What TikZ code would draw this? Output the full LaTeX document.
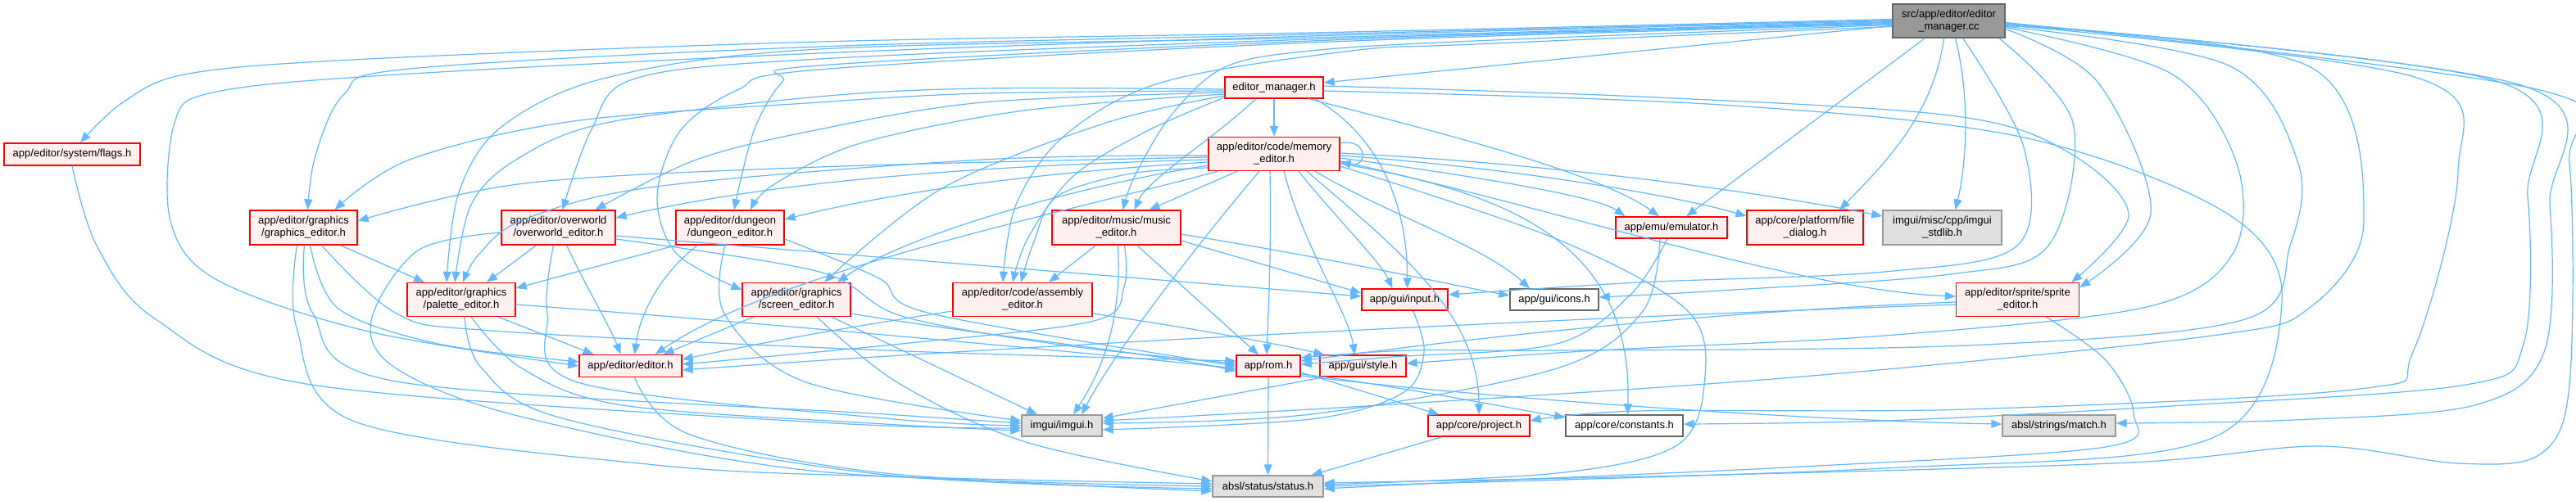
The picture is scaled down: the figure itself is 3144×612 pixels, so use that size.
\documentclass[tikz,border=0pt]{standalone}
\usepackage{fontspec}
\setmainfont{Liberation Sans}
\usetikzlibrary{arrows.meta,calc}
\definecolor{edgec}{HTML}{63B8FF}
\definecolor{nred}{HTML}{FF0000}
\definecolor{nfill}{HTML}{FFF0F0}
\definecolor{ngray}{HTML}{E0E0E0}
\definecolor{ngrayd}{HTML}{999999}
\definecolor{nwhited}{HTML}{666666}
\definecolor{nsrc}{HTML}{999999}
\newcommand\nfont{\fontsize{13}{15}\selectfont}
\tikzset{
 box/.style={draw, line width=1.3pt, inner sep=0pt, align=center, font=\nfont, text=black},
 redbox/.style={box, draw=nred, fill=nfill},
 graybox/.style={box, draw=ngrayd, fill=ngray},
 whitebox/.style={box, draw=nwhited, fill=white},
 srcbox/.style={box, draw=nwhited, fill=nsrc},
 e/.style={draw=edgec, line width=1.2pt, -{Triangle[length=13pt,width=10pt]}},
 sm/.style={smooth, tension=0.55},
}
\begin{document}
\begin{tikzpicture}[x=1pt,y=-1pt]
\fill[white] (0,0) rectangle (3144,612);
\useasboundingbox (0,0) rectangle (3144,612);

% ---------------- nodes ----------------
\node[srcbox, minimum width=137pt, minimum height=41pt] (src) at (2378.5,25.5) {src/app/editor/editor\\\_manager.cc};
\node[redbox, minimum width=120pt, minimum height=26pt] (em) at (1555,107) {editor\_manager.h};
\node[redbox, minimum width=160pt, minimum height=41pt] (mem) at (1555,188) {app/editor/code/memory\\\_editor.h};
\node[redbox, minimum width=166pt, minimum height=27pt] (flags) at (88,188.5) {app/editor/system/flags.h};
\node[redbox, minimum width=131pt, minimum height=42pt] (ge) at (370.5,278) {app/editor/graphics\\/graphics\_editor.h};
\node[redbox, minimum width=139pt, minimum height=42pt] (ow) at (681.5,278) {app/editor/overworld\\/overworld\_editor.h};
\node[redbox, minimum width=132pt, minimum height=42pt] (de) at (891,278) {app/editor/dungeon\\/dungeon\_editor.h};
\node[redbox, minimum width=157pt, minimum height=42pt] (mu) at (1362.5,278) {app/editor/music/music\\\_editor.h};
\node[redbox, minimum width=136pt, minimum height=26pt] (emu) at (2040,278) {app/emu/emulator.h};
\node[redbox, minimum width=142pt, minimum height=42pt] (fd) at (2203,278) {app/core/platform/file\\\_dialog.h};
\node[graybox, minimum width=145pt, minimum height=42pt] (stdlib) at (2370.5,278) {imgui/misc/cpp/imgui\\\_stdlib.h};
\node[redbox, minimum width=132pt, minimum height=41pt] (pe) at (563,366) {app/editor/graphics\\/palette\_editor.h};
\node[redbox, minimum width=132pt, minimum height=41pt] (se) at (972,366) {app/editor/graphics\\/screen\_editor.h};
\node[redbox, minimum width=170pt, minimum height=41pt] (asm) at (1248,366) {app/editor/code/assembly\\\_editor.h};
\node[redbox, minimum width=105pt, minimum height=26pt] (inp) at (1714.5,366) {app/gui/input.h};
\node[whitebox, minimum width=108pt, minimum height=26pt] (icons) at (1897,366) {app/gui/icons.h};
\node[redbox, minimum width=150pt, minimum height=41pt] (sp) at (2462.5,366) {app/editor/sprite/sprite\\\_editor.h};
\node[redbox, minimum width=125pt, minimum height=27pt] (ed) at (769.5,447) {app/editor/editor.h};
\node[redbox, minimum width=78pt, minimum height=26pt] (rom) at (1548,447) {app/rom.h};
\node[redbox, minimum width=105pt, minimum height=26pt] (sty) at (1663.5,447) {app/gui/style.h};
\node[graybox, minimum width=98pt, minimum height=26pt] (imgui) at (1296,520) {imgui/imgui.h};
\node[redbox, minimum width=124pt, minimum height=26pt] (proj) at (1805,520) {app/core/project.h};
\node[whitebox, minimum width=143pt, minimum height=26pt] (con) at (1982.5,520) {app/core/constants.h};
\node[graybox, minimum width=138pt, minimum height=26pt] (match) at (2513,520) {absl/strings/match.h};
\node[graybox, minimum width=135pt, minimum height=26pt] (status) at (1547.5,594) {absl/status/status.h};

% ---------------- edges from the source file ----------------
\draw[e] ($(src.west)+(0,6)$) -- ($(em.east)+(0,-6)$);
\draw[e] plot[sm] coordinates {($(src.west)+(0,-2)$) (1600,40) (1000,51) (450,72) (230,90) (150,125) ($(flags.north)+(10,0)$)};
\draw[e] plot[sm] coordinates {($(src.west)+(0,-1)$) (1600,42) (1000,57) (500,84) (420,115) (385,190) ($(ge.north)+(5,0)$)};
\draw[e] plot[sm] coordinates {(src.west) (1600,44) (1000,65) (470,92) (260,113) (213,150) (208,270) (265,342) (450,405) (ed.west)};
\draw[e] plot[sm] coordinates {($(src.west)+(0,1)$) (1600,46) (1000,60) (740,95) (612,155) (560,235) ($(pe.north)+(-18,0)$)};
\draw[e] plot[sm] coordinates {($(src.west)+(0,2)$) (1600,48) (1000,72) (775,96) (722,158) ($(ow.north)+(5,0)$)};
\draw[e] plot[sm] coordinates {($(src.west)+(0,3)$) (1600,50) (1000,80) (955,100) (920,160) ($(de.north)+(5,0)$)};
\draw[e] plot[sm] coordinates {($(src.west)+(0,4)$) (1600,52) (1000,85) (900,110) (830,160) (802,240) (826,310) ($(se.west)+(0,-12)$)};
\draw[e] plot[sm] coordinates {($(src.west)+(0,5)$) (1800,50) (1600,62) (1495,82) (1430,140) (1385,215) ($(mu.north)+(8,0)$)};
\draw[e] plot[sm] coordinates {($(src.west)+(0,7)$) (1800,54) (1650,62) (1420,100) (1300,165) (1240,250) ($(asm.north)+(-24,0)$)};
\draw[e] ($(src.south west)+(40,0)$) -- ($(emu.north)+(18,0)$);
\draw[e] ($(src.south)+(-6,0)$) .. controls (2360,140) and (2300,200) .. ($(fd.north)+(42,0)$);
\draw[e] ($(src.south)+(8,0)$) .. controls (2405,120) and (2400,200) .. ($(stdlib.north)+(16,0)$);
% loops on the right
\draw[e] plot[sm] coordinates {($(src.south east)+(-52,0)$) (2470,180) (2462,300) (2300,332) (2000,345) ($(inp.east)+(0,-6)$)};
\draw[e] plot[sm] coordinates {($(src.south east)+(-8,0)$) (2530,150) (2500,300) (2380,335) (2100,355) ($(icons.east)+(0,-3)$)};
\draw[e] plot[sm] coordinates {($(src.east)+(0,10)$) (2560,100) (2625,260) ($(sp.east)+(0,-15)$)};
\draw[e] plot[sm] coordinates {($(src.east)+(0,8)$) (2650,90) (2730,200) (2725,310) (2620,375) (2300,410) (1950,428) ($(sty.east)+(0,-3)$)};
\draw[e] plot[sm] coordinates {($(src.east)+(0,7)$) (2720,80) (2805,200) (2795,300) (2740,390) (2400,422) (1900,428) (1720,428) ($(rom.east)+(0,-10)$)};
\draw[e] plot[sm] coordinates {($(src.east)+(0,6)$) (2820,82) (2885,270) (2820,375) (2700,410) (2200,460) (1700,494) ($(imgui.east)+(0,-6)$)};
\draw[e] plot[sm] coordinates {($(src.east)+(0,5)$) (2950,95) (3000,210) (2945,430) (2880,475) (2400,500) (2000,502) ($(proj.east)+(0,-6)$)};
\draw[e] plot[sm] coordinates {($(src.east)+(0,4)$) (3050,100) (3085,240) (3080,420) (3010,470) (2650,496) (2300,514) ($(con.east)+(0,-2)$)};
\draw[e] plot[sm] coordinates {($(src.east)+(0,3)$) (3080,105) (3112,250) (3105,430) (3020,495) (2800,513) ($(match.east)+(0,-3)$)};
\draw[e] plot[sm] coordinates {($(src.east)+(0,2)$) (3100,110) (3136,200) (3136,470) (3100,555) (3000,566) (2830,545) (2600,565) (2100,580) ($(status.east)+(0,-4)$)};

% ---------------- edges from editor_manager.h ----------------
\draw[e] (em.south) -- (mem.north);
\draw[e] plot[sm] coordinates {($(em.west)+(0,4)$) (1200,114) (1000,125) (700,148) (500,195) ($(ge.north)+(38,0)$)};
\draw[e] plot[sm] coordinates {($(em.west)+(0,6)$) (1200,125) (1000,158) (850,195) ($(ow.north)+(45,0)$)};
\draw[e] plot[sm] coordinates {($(em.west)+(0,8)$) (1250,135) (1050,175) (945,225) ($(de.north)+(25,0)$)};
\draw[e] plot[sm] coordinates {($(em.west)+(0,2)$) (1200,108) (1000,118) (740,150) (630,195) (575,250) ($(pe.north)+(-8,0)$)};
\draw[e] plot[sm] coordinates {($(em.west)+(0,10)$) (1350,150) (1150,230) ($(se.north)+(34,0)$)};
\draw[e] ($(em.south)+(-22,0)$) .. controls (1480,170) and (1400,220) .. ($(mu.north)+(22,0)$);
\draw[e] plot[sm] coordinates {($(em.west)+(0,12)$) (1400,160) (1310,215) (1255,290) ($(asm.north)+(-12,0)$)};
\draw[e] ($(em.south)+(42,0)$) .. controls (1750,160) and (1950,210) .. ($(emu.north)+(-15,0)$);
\draw[e] ($(em.south)+(50,0)$) .. controls (1690,170) and (1718,260) .. ($(inp.north)+(3,0)$);
\draw[e] plot[sm] coordinates {($(em.east)+(0,-2)$) (2000,118) (2380,141) (2521,184) (2598,262) ($(sp.north east)+(-10,0)$)};
\draw[e] plot[sm] coordinates {($(em.east)+(0,4)$) (2100,128) (2470,168) (2720,262) (2785,370) (2700,535) (2300,572) (status.east)};

% ---------------- edges from memory_editor.h ----------------
\draw[e] ($(mem.east)+(0,-13)$) .. controls (1670,168) and (1670,205) .. ($(mem.east)+(0,10)$);
\draw[e] plot[sm] coordinates {($(mem.west)+(0,4)$) (1000,204) (640,224) ($(ge.east)+(0,-8)$)};
\draw[e] ($(mem.west)+(0,7)$) .. controls (1100,205) and (900,232) .. ($(ow.east)+(0,-12)$);
\draw[e] ($(mem.west)+(0,10)$) .. controls (1200,215) and (1050,245) .. ($(de.east)+(0,-10)$);
\draw[e] plot[sm] coordinates {($(mem.west)+(0,2)$) (1200,195) (800,228) (640,268) (585,310) ($(pe.north)+(2,0)$)};
\draw[e] ($(mem.west)+(0,14)$) .. controls (1300,230) and (1100,290) .. ($(se.north)+(50,0)$);
\draw[e] ($(mem.south)+(-45,0)$) -- ($(mu.north)+(40,0)$);
\draw[e] plot[sm] coordinates {($(mem.west)+(0,17)$) (1380,212) (1290,240) (1262,295) ($(asm.north)+(-2,0)$)};
\draw[e] ($(mem.south west)+(12,0)$) .. controls (1300,260) and (950,330) .. ($(ed.north)+(30,0)$);
\draw[e] ($(mem.east)+(0,5)$) .. controls (1800,215) and (1950,240) .. ($(emu.north west)+(12,0)$);
\draw[e] ($(mem.east)+(0,2)$) .. controls (1850,205) and (2050,240) .. ($(fd.west)+(0,-14)$);
\draw[e] ($(mem.east)+(0,-1)$) .. controls (1900,200) and (2150,235) .. ($(stdlib.west)+(0,-14)$);
\draw[e] ($(mem.east)+(0,9)$) .. controls (1900,255) and (2200,355) .. ($(sp.west)+(0,-4)$);
\draw[e] ($(mem.south)+(30,0)$) .. controls (1625,260) and (1685,320) .. ($(inp.north)+(-15,0)$);
\draw[e] ($(mem.south)+(50,0)$) .. controls (1690,260) and (1810,300) .. ($(icons.north)+(-30,0)$);
\draw[e] ($(mem.south)+(-5,0)$) .. controls (1552,300) and (1548,380) .. ($(rom.north)+(-2,0)$);
\draw[e] ($(mem.south)+(12,0)$) .. controls (1590,300) and (1645,380) .. ($(sty.north)+(-10,0)$);
\draw[e] ($(mem.south)+(-18,0)$) .. controls (1460,300) and (1360,430) .. ($(imgui.north)+(24,0)$);
\draw[e] ($(mem.south)+(40,0)$) .. controls (1700,300) and (1805,380) .. (proj.north);
\draw[e] ($(mem.east)+(0,12)$) .. controls (1880,240) and (1992,320) .. ($(con.north)+(4,0)$);
\draw[e] plot[sm] coordinates {($(mem.east)+(0,15)$) (1900,292) (2060,380) (2080,470) (2045,545) (1900,578) ($(status.east)+(0,-2)$)};

% ---------------- other edges ----------------
\draw[e] plot[sm] coordinates {(flags.south) (118,300) (190,390) (380,470) (1000,516) ($(imgui.west)+(0,3)$)};

\draw[e] ($(ge.south)+(45,0)$) -- ($(pe.north)+(-45,0)$);
\draw[e] plot[sm] coordinates {($(ge.south)+(22,0)$) (484,383) (600,404) (1080,428) ($(rom.west)+(0,-6)$)};
\draw[e] plot[sm] coordinates {($(ge.south)+(8,0)$) (413,377) (535,420) ($(ed.west)+(0,-5)$)};
\draw[e] plot[sm] coordinates {($(ge.south)+(1,0)$) (382,383) (484,466) (1080,506) ($(imgui.west)+(0,-3)$)};
\draw[e] plot[sm] coordinates {($(ge.south)+(-8,0)$) (362,400) (433,515) (800,568) (1080,582) ($(status.west)+(0,-3)$)};

\draw[e] ($(ow.south)+(-27,0)$) -- ($(pe.north)+(31,0)$);
\draw[e] ($(ow.south)+(10,0)$) .. controls (715,350) and (745,400) .. ($(ed.north)+(-12,0)$);
\draw[e] plot[sm] coordinates {($(ow.south)+(-6,0)$) (668,383) (705,467) (1080,511) ($(imgui.west)+(0,0)$)};
\draw[e] plot[sm] coordinates {($(ow.west)+(0,6)$) (510,306) (453,392) (485,451) (640,510) (1000,576) ($(status.west)+(0,0)$)};
\draw[e] ($(ow.east)+(0,10)$) -- ($(inp.west)+(0,-4)$);
\draw[e] plot[sm] coordinates {($(ow.east)+(0,14)$) (1000,332) (1100,386) (1300,422) ($(rom.west)+(0,-3)$)};

\draw[e] ($(de.south)+(-66,0)$) -- ($(pe.east)+(0,-14)$);
\draw[e] ($(de.south)+(-40,0)$) .. controls (800,340) and (780,390) .. ($(ed.north)+(5,0)$);
\draw[e] plot[sm] coordinates {($(de.south)+(-6,0)$) (884,383) (984,467) ($(imgui.west)+(0,-6)$)};
\draw[e] plot[sm] coordinates {($(de.east)+(0,14)$) (1073,340) (1136,383) ($(rom.west)+(0,0)$)};

\draw[e] ($(pe.south)+(45,0)$) -- ($(ed.north)+(-45,0)$);
\draw[e] ($(pe.east)+(0,6)$) .. controls (900,392) and (1300,428) .. ($(rom.west)+(0,3)$);
\draw[e] plot[sm] coordinates {($(pe.south)+(12,0)$) (637,450) (760,495) (1080,518) ($(imgui.west)+(0,6)$)};
\draw[e] plot[sm] coordinates {($(pe.south)+(4,0)$) (588,450) (690,512) (1080,580) ($(status.west)+(0,3)$)};

\draw[e] ($(se.south west)+(14,0)$) -- ($(ed.north)+(40,0)$);
\draw[e] ($(se.south)+(43,0)$) -- ($(imgui.north)+(-30,0)$);
\draw[e] plot[sm] coordinates {($(se.south)+(25,0)$) (1095,467) (1252,540) ($(status.west)+(0,-6)$)};
\draw[e] ($(se.east)+(0,17)$) .. controls (1200,410) and (1400,430) .. ($(rom.west)+(0,6)$);

\draw[e] ($(asm.west)+(0,14)$) .. controls (1000,405) and (900,425) .. ($(ed.east)+(0,-8)$);
\draw[e] ($(asm.east)+(0,17)$) .. controls (1450,400) and (1560,420) .. ($(sty.north west)+(6,0)$);

\draw[e] ($(mu.south)+(-25,0)$) -- ($(asm.north)+(32,0)$);
\draw[e] plot[sm] coordinates {($(mu.south)+(10,0)$) (1372,350) (1335,392) (1100,420) ($(ed.east)+(0,-2)$)};
\draw[e] ($(mu.south)+(2,0)$) .. controls (1370,400) and (1340,460) .. ($(imgui.north)+(14,0)$);
\draw[e] ($(mu.south)+(25,0)$) -- ($(rom.north)+(-12,0)$);
\draw[e] ($(mu.east)+(0,16)$) -- ($(inp.west)+(0,-8)$);
\draw[e] ($(mu.east)+(0,8)$) .. controls (1650,320) and (1780,350) .. ($(icons.west)+(0,-5)$);

\draw[e] ($(sp.west)+(0,6)$) .. controls (2000,385) and (1300,418) .. ($(ed.east)+(0,5)$);
\draw[e] ($(sp.west)+(0,3)$) .. controls (2100,380) and (1800,412) .. ($(rom.east)+(0,-6)$);
\draw[e] plot[sm] coordinates {($(sp.south)+(35,0)$) (2570,440) (2604,505) (2570,546) (2200,570) (1800,588) ($(status.east)+(0,3)$)};

\draw[e] plot[sm] coordinates {($(emu.south)+(-5,0)$) (1990,360) (1900,420) (1700,436) ($(rom.east)+(0,-2)$)};
\draw[e] plot[sm] coordinates {($(emu.south)+(-14,0)$) (2005,380) (1900,450) (1600,506) ($(imgui.east)+(0,-3)$)};

\draw[e] plot[sm] coordinates {($(inp.south)+(10,0)$) (1738,430) (1712,480) (1600,512) ($(imgui.east)+(0,5)$)};
\draw[e] ($(sty.south west)+(6,0)$) -- ($(imgui.east)+(0,-9)$);

\draw[e] (rom.south) -- (status.north);
\draw[e] ($(rom.east)+(0,8)$) -- ($(proj.north west)+(14,0)$);
\draw[e] ($(rom.east)+(0,10)$) .. controls (1700,470) and (1850,500) .. ($(con.west)+(0,-10)$);
\draw[e] ($(rom.east)+(0,12)$) .. controls (1800,485) and (2200,514) .. ($(match.west)+(0,-2)$);

\draw[e] ($(proj.south)+(-45,0)$) -- ($(status.north east)+(-15,0)$);
\draw[e] plot[sm] coordinates {($(ed.south)+(5,0)$) (840,530) (1080,578) ($(status.west)+(0,6)$)};
\end{tikzpicture}
\end{document}
